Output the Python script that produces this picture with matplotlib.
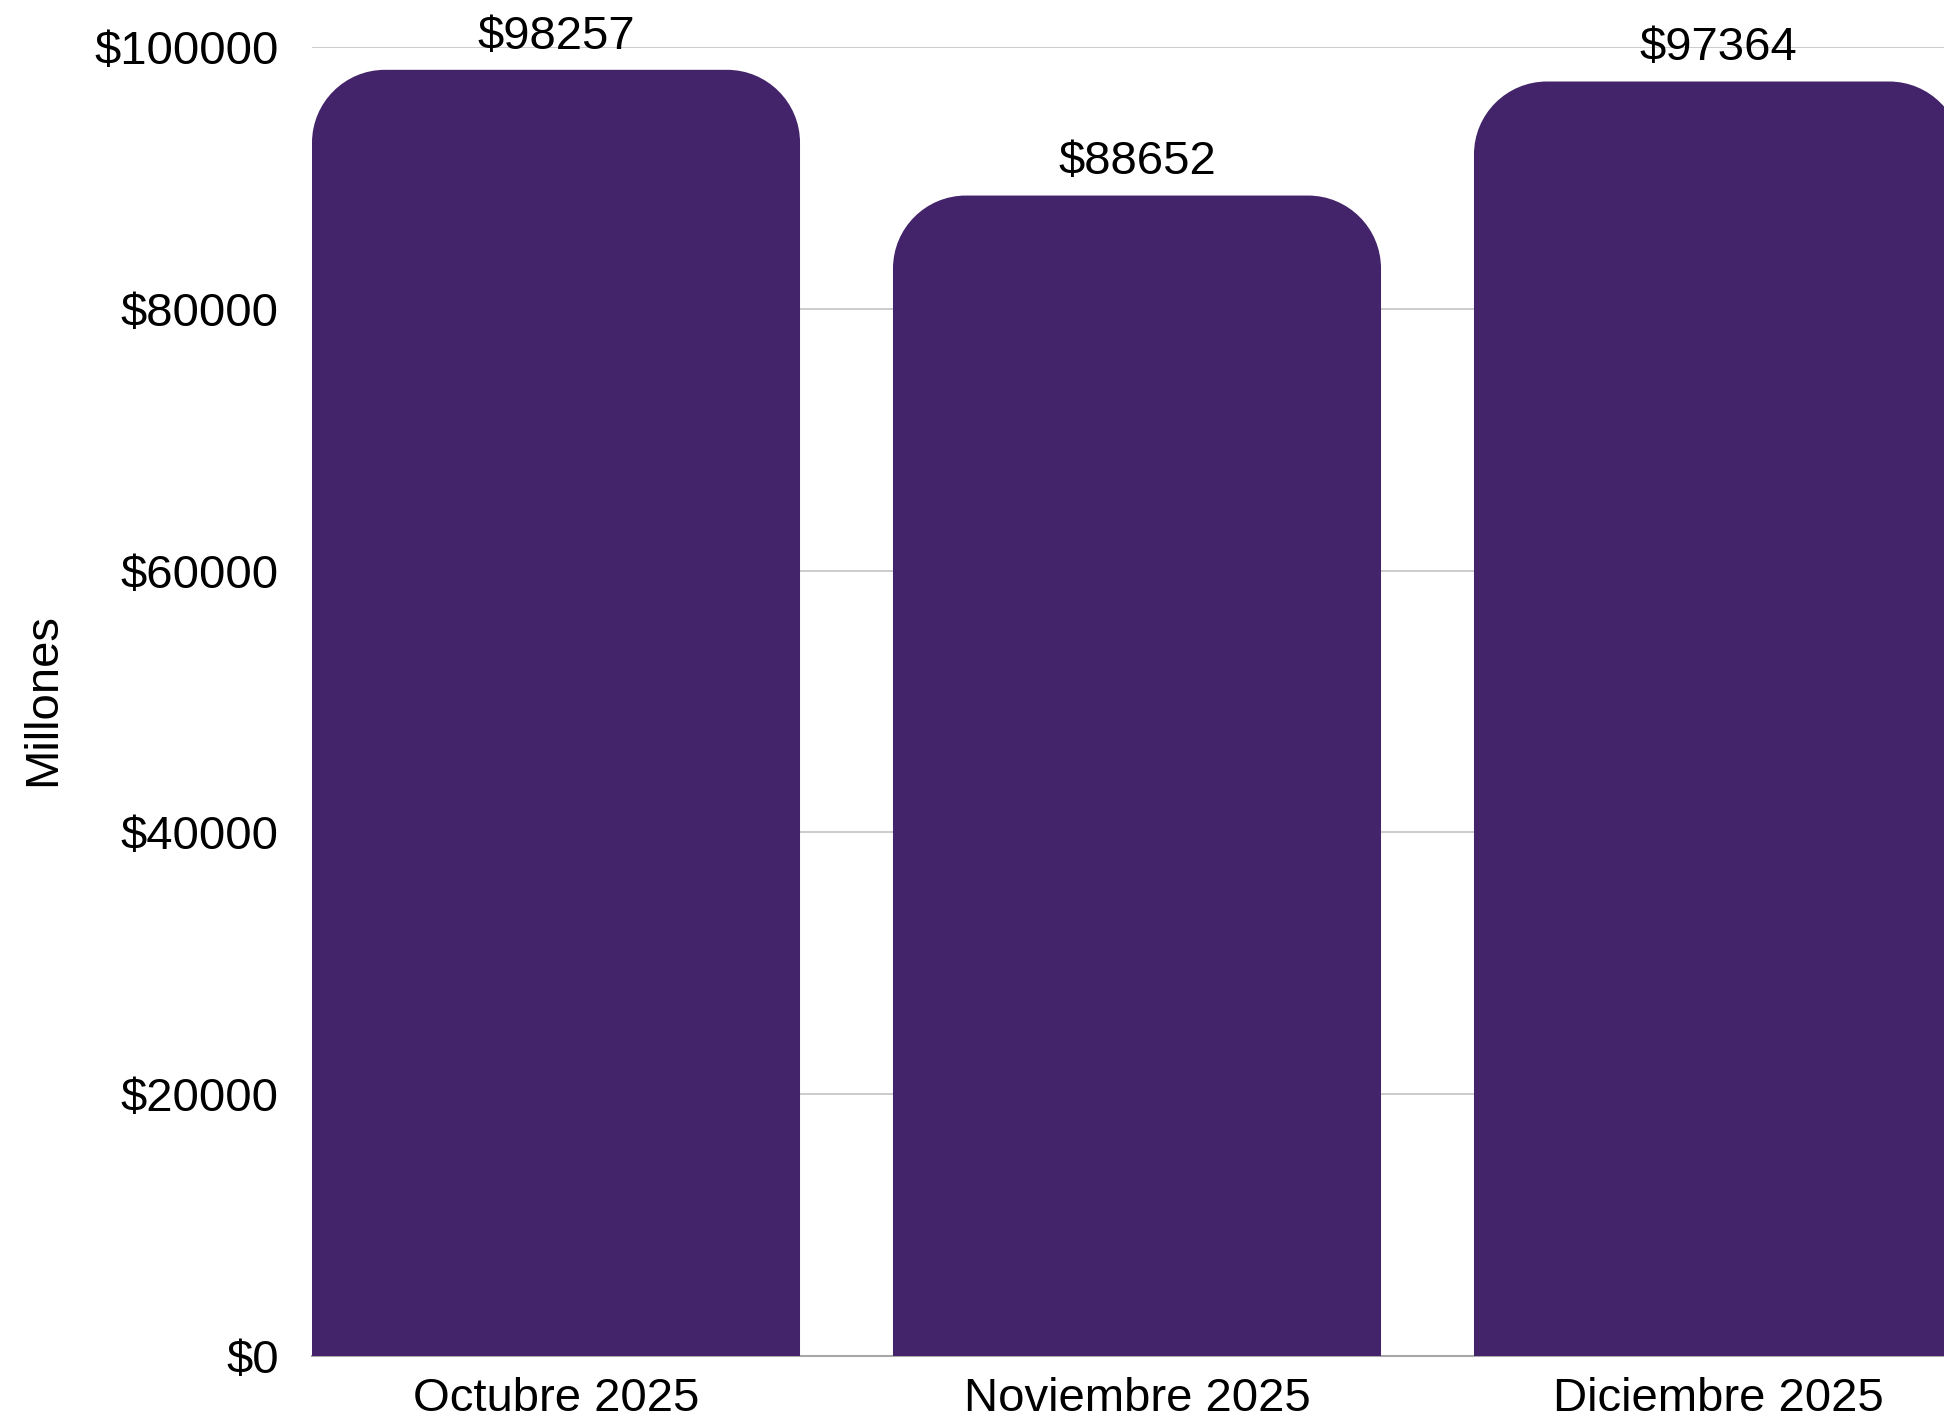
import numpy as np
import matplotlib
matplotlib.use("Agg")
import matplotlib.pyplot as plt
from matplotlib.path import Path
from matplotlib.patches import PathPatch

meses = ["Octubre 2025", "Noviembre 2025", "Diciembre 2025"]
montos = [98257, 88652, 97364]
y_ticks = [0, 20000, 40000, 60000, 80000, 100000]
y_tick_labels = [f"${v}" for v in y_ticks]

bar_color = "#43246a"
bar_width = 0.84
radius_px = 73  # corner radius in pixels

plt.rcParams["font.family"] = ["Liberation Sans", "DejaVu Sans"]

W, H, dpi = 1944, 1422, 100
fig = plt.figure(figsize=(W / dpi, H / dpi), dpi=dpi)

# axes geometry (in pixels of the final image)
ax_left, ax_right = 312, 1962
ax_bottom, ax_top = 1356, 47
ax = fig.add_axes([ax_left / W, (H - ax_bottom) / H,
                   (ax_right - ax_left) / W, (ax_bottom - ax_top) / H])

x = np.arange(len(meses))
ax.set_xlim(-0.42, len(meses) - 1 + 0.42)
ax.set_ylim(0, 100000)

# pixel -> data scale for rounded corners
x_per_px = (ax.get_xlim()[1] - ax.get_xlim()[0]) / (ax_right - ax_left)
y_per_px = (ax.get_ylim()[1] - ax.get_ylim()[0]) / (ax_bottom - ax_top)
rx = radius_px * x_per_px
ry = radius_px * y_per_px
k = 0.5523

for xi, val in zip(x, montos):
    x0, x1 = xi - bar_width / 2, xi + bar_width / 2
    verts = [
        (x0, 0), (x0, val - ry),
        (x0, val - ry + k * ry), (x0 + rx - k * rx, val), (x0 + rx, val),
        (x1 - rx, val),
        (x1 - rx + k * rx, val), (x1, val - ry + k * ry), (x1, val - ry),
        (x1, 0), (x0, 0),
    ]
    codes = [Path.MOVETO, Path.LINETO,
             Path.CURVE4, Path.CURVE4, Path.CURVE4,
             Path.LINETO,
             Path.CURVE4, Path.CURVE4, Path.CURVE4,
             Path.LINETO, Path.CLOSEPOLY]
    ax.add_patch(PathPatch(Path(verts, codes), facecolor=bar_color,
                           edgecolor="none", zorder=3))
    ax.annotate(f"${val}", (xi, val), xytext=(0, 8), textcoords="offset points",
                ha="center", va="bottom", fontsize=34, color="#000000",
                annotation_clip=False, zorder=4)

ax.set_yticks(y_ticks)
ax.set_yticklabels(y_tick_labels)
ax.set_xticks(x)
ax.set_xticklabels(meses)
ax.tick_params(axis="both", length=0, labelsize=34, colors="#000000")
ax.tick_params(axis="y", pad=24)
ax.tick_params(axis="x", pad=15)

ax.grid(axis="y", color="#c4c4c4", linewidth=1.2, zorder=0)
ax.axhline(0, color="#a8a8a8", linewidth=1.5, zorder=1, clip_on=False)
ax.set_axisbelow(True)
for s in ax.spines.values():
    s.set_visible(False)

fig.text(43 / W, (H - 700) / H, "Millones", rotation=90, ha="center",
         va="center", fontsize=34, color="#000000")

fig.savefig("out.png", dpi=dpi)
